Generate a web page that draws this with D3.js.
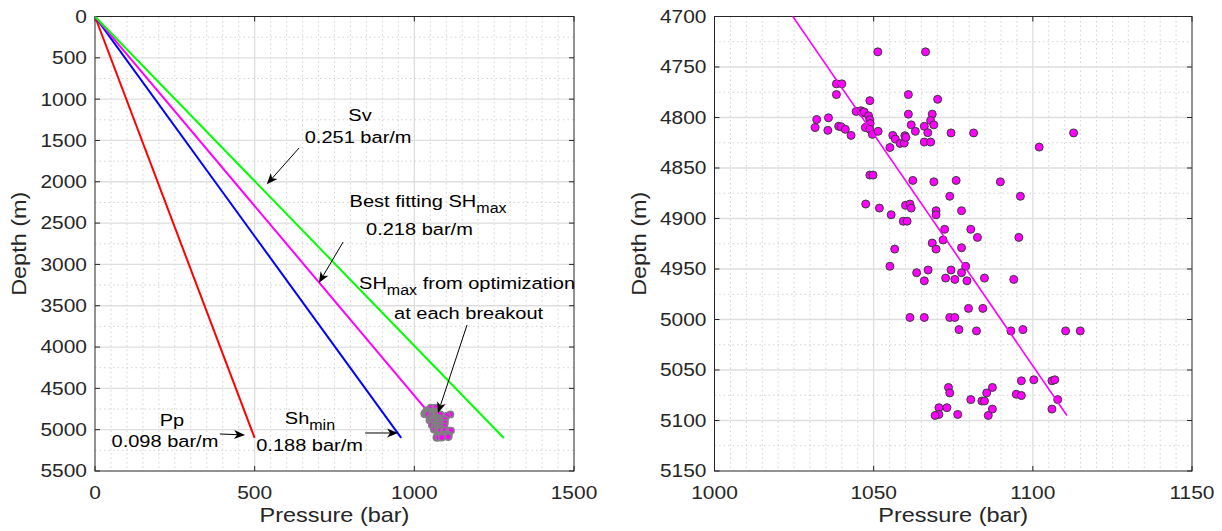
<!DOCTYPE html>
<html>
<head>
<meta charset="utf-8">
<script src="https://cdn.jsdelivr.net/npm/d3@7"></script>
<style>
  body { margin: 0; background: #fff; }
  svg { display: block; }
</style>
</head>
<body>
<div id="chart"></div>
<script>
// ---- data ----
const lineNames = ["Pp", "Shmin", "SHmax", "Sv"];
const lineGradients = [0.098, 0.188, 0.218, 0.251];   // bar/m
const lineMaxDepth = [5100, 5100, 5095, 5100];         // m

// SHmax from optimization at each breakout
const bkPressure = [1051.3, 1066.3, 1038.3, 1040.0, 1038.3, 1060.9, 1048.8, 1070.1,
  1044.5, 1046.0, 1046.5, 1047.0, 1048.4, 1048.8, 1048.9, 1047.4, 1048.8, 1049.6, 1051.4,
  1032.1, 1035.8, 1031.6, 1035.6, 1039.0, 1039.8, 1041.1, 1042.9, 1060.9, 1068.4, 1067.9,
  1061.8, 1068.9, 1065.9, 1067.0, 1063.1, 1056.0, 1056.8, 1058.3, 1059.6, 1059.8, 1060.1,
  1055.1, 1065.9, 1067.9, 1074.3, 1081.4, 1112.8, 1102.0, 1048.8, 1049.8, 1062.3, 1068.9,
  1075.9, 1089.8, 1073.9, 1096.1, 1047.5, 1051.8, 1060.0, 1061.4, 1061.8, 1055.5, 1069.6,
  1069.6, 1077.6, 1059.3, 1060.5, 1072.3, 1080.5, 1082.6, 1095.6, 1071.8, 1068.4, 1069.6,
  1056.6, 1077.6, 1055.1, 1078.9, 1074.3, 1067.1, 1063.5, 1077.6, 1065.9, 1072.6, 1075.5,
  1079.3, 1084.8, 1094.0, 1079.8, 1084.3, 1061.4, 1065.9, 1073.9, 1075.5, 1076.8, 1082.3,
  1093.1, 1096.9, 1110.3, 1114.9, 1096.4, 1100.3, 1106.0, 1106.9, 1073.5, 1073.9, 1087.3,
  1085.5, 1094.8, 1096.4, 1080.5, 1084.0, 1084.8, 1107.8, 1070.5, 1073.0, 1070.5, 1069.3,
  1076.4, 1087.3, 1086.0, 1106.0];
const bkDepth = [4735, 4735, 4766.7, 4766.7, 4777.3, 4777.3, 4783.3, 4782,
  4794, 4793.3, 4795.3, 4794.5, 4798.3, 4802.3, 4806, 4810, 4811.7, 4816.7, 4813.7,
  4802, 4800.3, 4810, 4812.7, 4808.7, 4809.3, 4811.7, 4817.7, 4796.7, 4796.7, 4803,
  4807.3, 4807.3, 4808.7, 4815, 4813.7, 4817.7, 4821.3, 4825.7, 4825.3, 4818, 4819.7,
  4829.7, 4824.3, 4824.3, 4815.3, 4815.3, 4815.3, 4829.3, 4857, 4857, 4862.3, 4863.7,
  4862.3, 4863.7, 4878, 4878, 4885.7, 4889.7, 4887, 4885.7, 4889.7, 4896.3, 4892.3,
  4896.3, 4892.3, 4902.7, 4902.7, 4910.7, 4910.7, 4918.7, 4918.7, 4921.3, 4924.3, 4930.3,
  4930.3, 4929, 4947.3, 4947.3, 4951, 4951, 4953.7, 4953.7, 4961.7, 4959, 4960.3,
  4961.7, 4959, 4960.3, 4989, 4989, 4998, 4998, 4998, 4998, 5010, 5011.3,
  5011.3, 5010, 5011.3, 5011.3, 5060.7, 5059.7, 5060.7, 5059.7, 5067.3, 5072.7, 5067.3,
  5072.7, 5074, 5075.3, 5079.3, 5080.7, 5080.7, 5079.3, 5087.3, 5087.3, 5094, 5095,
  5094, 5088.7, 5095, 5088.7];

const leftXTicks = [0, 500, 1000, 1500];
const leftYTicks = [0, 500, 1000, 1500, 2000, 2500, 3000, 3500, 4000, 4500, 5000, 5500];
const rightXTicks = [1000, 1050, 1100, 1150];
const rightYTicks = [4700, 4750, 4800, 4850, 4900, 4950, 5000, 5050, 5100, 5150];

// ---- styles ----
const lineColors = { Pp: "#ff0000", Shmin: "#0000ff", SHmax: "#ff00ff", Sv: "#00ff00" };
const SX = 1.15;          // horizontal text stretch seen in the figure
const tickFont = 18.2, labelFont = 20.4, noteFont = 17.4;
const axisColor = "#262626";

const svg = d3.select("#chart").append("svg")
    .attr("width", 1222).attr("height", 531)
    .style("font-family", "'Liberation Sans', Arial, Helvetica, sans-serif");

function addText(g, x, y, size, anchor, rot) {
    return g.append("text")
        .attr("transform", `translate(${x},${y})` + (rot ? ` rotate(${rot})` : "") + ` scale(${SX},1)`)
        .attr("text-anchor", anchor)
        .attr("font-size", size);
}

const panels = [
    { id: "L", left: 95, right: 574, top: 16.5, bottom: 471, xDom: [0, 1500], yDom: [0, 5500],
      xTicks: leftXTicks, yTicks: leftYTicks, xMinor: 50, yMinor: 250 },
    { id: "R", left: 714.5, right: 1192, top: 16.5, bottom: 471, xDom: [1000, 1150], yDom: [4700, 5150],
      xTicks: rightXTicks, yTicks: rightYTicks, xMinor: 5, yMinor: 25 }
];

function drawAxes(p) {
    const x = d3.scaleLinear().domain(p.xDom).range([p.left, p.right]);
    const y = d3.scaleLinear().domain(p.yDom).range([p.top, p.bottom]);
    const g = svg.append("g").attr("id", "panel" + p.id);

    g.append("clipPath").attr("id", "clip" + p.id).append("rect")
        .attr("x", p.left).attr("y", p.top)
        .attr("width", p.right - p.left).attr("height", p.bottom - p.top);

    // minor grid (dotted)
    const xm = d3.range(p.xDom[0], p.xDom[1] + 1e-9, p.xMinor).filter(v => !p.xTicks.includes(v));
    const ym = d3.range(p.yDom[0], p.yDom[1] + 1e-9, p.yMinor).filter(v => !p.yTicks.includes(v));
    g.append("g").selectAll("line").data(xm).join("line")
        .attr("x1", d => x(d)).attr("x2", d => x(d)).attr("y1", p.top).attr("y2", p.bottom)
        .attr("stroke", "#d2d2d2").attr("stroke-dasharray", "1.5,3");
    g.append("g").selectAll("line").data(ym).join("line")
        .attr("y1", d => y(d)).attr("y2", d => y(d)).attr("x1", p.left).attr("x2", p.right)
        .attr("stroke", "#d2d2d2").attr("stroke-dasharray", "1.5,3");
    // major grid
    g.append("g").selectAll("line").data(p.xTicks.slice(1, -1)).join("line")
        .attr("x1", d => x(d)).attr("x2", d => x(d)).attr("y1", p.top).attr("y2", p.bottom)
        .attr("stroke", "#dedede").attr("stroke-width", 1.3);
    g.append("g").selectAll("line").data(p.yTicks.slice(1, -1)).join("line")
        .attr("y1", d => y(d)).attr("y2", d => y(d)).attr("x1", p.left).attr("x2", p.right)
        .attr("stroke", "#dedede").attr("stroke-width", 1.3);

    // box
    g.append("rect").attr("x", p.left).attr("y", p.top)
        .attr("width", p.right - p.left).attr("height", p.bottom - p.top)
        .attr("fill", "none").attr("stroke", axisColor).attr("stroke-width", 1);

    // inward ticks on all sides
    const tl = 5;
    const tk = g.append("g").attr("stroke", axisColor).attr("stroke-width", 1);
    p.xTicks.forEach(v => {
        tk.append("line").attr("x1", x(v)).attr("x2", x(v)).attr("y1", p.bottom).attr("y2", p.bottom - tl);
        tk.append("line").attr("x1", x(v)).attr("x2", x(v)).attr("y1", p.top).attr("y2", p.top + tl);
    });
    p.yTicks.forEach(v => {
        tk.append("line").attr("y1", y(v)).attr("y2", y(v)).attr("x1", p.left).attr("x2", p.left + tl);
        tk.append("line").attr("y1", y(v)).attr("y2", y(v)).attr("x1", p.right).attr("x2", p.right - tl);
    });

    // tick labels
    p.xTicks.forEach(v => addText(g, x(v), p.bottom + 28, tickFont, "middle").attr("fill", axisColor).text(v));
    p.yTicks.forEach(v => addText(g, p.left - 8, y(v), tickFont, "end").attr("dy", "0.35em").attr("fill", axisColor).text(v));

    // axis labels
    addText(g, (p.left + p.right) / 2, 522, labelFont, "middle").attr("fill", axisColor).text("Pressure (bar)");
    addText(g, p.left - 69, (p.top + p.bottom) / 2, labelFont, "middle", -90).attr("fill", axisColor).text("Depth (m)");

    p.x = x; p.y = y; p.g = g;
}

panels.forEach(drawAxes);

function gradientLine(i) {
    return [[0, 0], [lineGradients[i] * lineMaxDepth[i], lineMaxDepth[i]]];
}

function arrow(g, x1, y1, x2, y2) {
    const ang = Math.atan2(y2 - y1, x2 - x1);
    const L = 11, w = 4.5, n = 8;
    g.append("line").attr("x1", x1).attr("y1", y1)
        .attr("x2", x2 - Math.cos(ang) * n).attr("y2", y2 - Math.sin(ang) * n)
        .attr("stroke", "black").attr("stroke-width", 1);
    const pts = [[0, 0], [-L, w], [-n, 0], [-L, -w]].map(([a, b]) => [
        x2 + a * Math.cos(ang) - b * Math.sin(ang),
        y2 + a * Math.sin(ang) + b * Math.cos(ang)
    ]);
    g.append("path").attr("d", "M" + pts.join("L") + "Z").attr("fill", "black");
}

// ---- left panel ----
const PL = panels[0];
const lineGen = d3.line().x(d => PL.x(d[0])).y(d => PL.y(d[1]));
const plotL = PL.g.append("g").attr("clip-path", "url(#clipL)");
lineNames.forEach((nm, i) => {
    plotL.append("path").datum(gradientLine(i)).attr("d", lineGen)
        .attr("fill", "none").attr("stroke", lineColors[nm]).attr("stroke-width", 2);
});
plotL.append("g").selectAll("circle").data(d3.range(bkPressure.length)).join("circle")
    .attr("cx", i => PL.x(bkPressure[i])).attr("cy", i => PL.y(bkDepth[i]))
    .attr("r", 3.2).attr("fill", "#ff00ff").attr("stroke", "#808080").attr("stroke-width", 1.5);

// annotations (positions in data units)
const ann = PL.g.append("g");
const ax = PL.x, ay = PL.y;
addText(ann, ax(830), ay(1192), noteFont, "middle").attr("dy", "0.35em").text("Sv");
addText(ann, ax(824), ay(1455), noteFont, "middle").attr("dy", "0.35em").text("0.251 bar/m");
arrow(ann, ax(639), ay(1591), ax(538), ay(2031));

const t1 = addText(ann, ax(1043), ay(2229), noteFont, "middle").attr("dy", "0.35em");
t1.append("tspan").text("Best fitting SH");
t1.append("tspan").attr("font-size", noteFont * 0.8).attr("dy", 6).text("max");
addText(ann, ax(1016), ay(2572), noteFont, "middle").attr("dy", "0.35em").text("0.218 bar/m");
arrow(ann, ax(777), ay(2729), ax(701), ay(3225));

const t2 = addText(ann, ax(1165), ay(3225), noteFont, "middle").attr("dy", "0.35em");
t2.append("tspan").text("SH");
t2.append("tspan").attr("font-size", noteFont * 0.8).attr("dy", 6).text("max");
t2.append("tspan").attr("dy", -6).text(" from optimization");
addText(ann, ax(1170), ay(3588), noteFont, "middle").attr("dy", "0.35em").text("at each breakout");
arrow(ann, ax(1165), ay(3733), ax(1074), ay(4798));

const t3 = addText(ann, ax(673), ay(4858), noteFont, "middle").attr("dy", "0.35em");
t3.append("tspan").text("Sh");
t3.append("tspan").attr("font-size", noteFont * 0.8).attr("dy", 6).text("min");
addText(ann, ax(672), ay(5185), noteFont, "middle").attr("dy", "0.35em").text("0.188 bar/m");
arrow(ann, ax(846), ay(5040), ax(949), ay(5040));

addText(ann, ax(241), ay(4883), noteFont, "middle").attr("dy", "0.35em").text("Pp");
addText(ann, ax(219), ay(5137), noteFont, "middle").attr("dy", "0.35em").text("0.098 bar/m");
arrow(ann, ax(391), ay(5052), ax(470), ay(5064));

// ---- right panel ----
const PR = panels[1];
const plotR = PR.g.append("g").attr("clip-path", "url(#clipR)");
plotR.append("g").selectAll("circle").data(d3.range(bkPressure.length)).join("circle")
    .attr("cx", i => PR.x(bkPressure[i])).attr("cy", i => PR.y(bkDepth[i]))
    .attr("r", 4).attr("fill", "#ff00ff").attr("stroke", "#3a3a3a").attr("stroke-width", 1);
const lineGenR = d3.line().x(d => PR.x(d[0])).y(d => PR.y(d[1]));
plotR.append("path").datum(gradientLine(2)).attr("d", lineGenR)
    .attr("fill", "none").attr("stroke", lineColors.SHmax).attr("stroke-width", 1.6);
</script>
</body>
</html>
